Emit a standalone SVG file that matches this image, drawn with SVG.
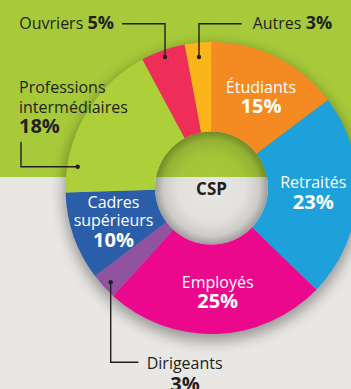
<svg xmlns="http://www.w3.org/2000/svg" width="351" height="389" viewBox="0 0 351 389">
<defs>
<style>
.lbl{font-family:"Open Sans","Noto Sans","Liberation Sans",sans-serif;font-size:16px;}
.dark{fill:#231f20;}
.white{fill:#ffffff;}
.b{font-weight:700;}
.pct{font-weight:700;font-size:20px;}
.inl{font-weight:700;font-size:18px;}
.lead{fill:none;stroke:#231f20;stroke-width:1.4;}
.dot{fill:#231f20;}
</style>
<filter id="sh" x="-30%" y="-30%" width="160%" height="160%">
<feGaussianBlur stdDeviation="7"/>
</filter>
<radialGradient id="holeShade" cx="211.5" cy="188" r="56.5" gradientUnits="userSpaceOnUse">
<stop offset="0" stop-color="#000" stop-opacity="0"/>
<stop offset="0.6" stop-color="#000" stop-opacity="0.03"/>
<stop offset="0.85" stop-color="#000" stop-opacity="0.12"/>
<stop offset="1" stop-color="#000" stop-opacity="0.32"/>
</radialGradient>
<clipPath id="holeClip"><circle cx="211.5" cy="188" r="56.5"/></clipPath>
</defs>

<g id="background">
<rect x="0" y="0" width="351" height="177" fill="#a7ca3a"/>
<rect x="0" y="177" width="351" height="212" fill="#e9e7e4"/>
<circle cx="211.5" cy="193" r="148" fill="#000" opacity="0.35" filter="url(#sh)"/>
</g>

<g id="etudiants"><path d="M211.5 188 L211.5 42 A146 146 0 0 1 327.94 99.92 Z" fill="#f68a22"/></g>
<g id="retraites"><path d="M211.5 188 L327.94 99.92 A146 146 0 0 1 316.33 289.63 Z" fill="#1ea1da"/></g>
<g id="employes"><path d="M211.5 188 L316.33 289.63 A146 146 0 0 1 113.14 295.89 Z" fill="#ec088c"/></g>
<g id="dirigeants"><path d="M211.5 188 L113.14 295.89 A146 146 0 0 1 95.06 276.08 Z" fill="#9152a0"/></g>
<g id="cadres"><path d="M211.5 188 L95.06 276.08 A146 146 0 0 1 65.57 192.5 Z" fill="#2b5ea9"/></g>
<g id="professions"><path d="M211.5 188 L65.57 192.5 A146 146 0 0 1 142.43 59.37 Z" fill="#adcf3a"/></g>
<g id="ouvriers"><path d="M211.5 188 L142.43 59.37 A146 146 0 0 1 184.68 44.48 Z" fill="#ee2d59"/></g>
<g id="autres"><path d="M211.5 188 L184.68 44.48 A146 146 0 0 1 211.5 42 Z" fill="#fbb419"/></g>

<g id="csp">
<g clip-path="url(#holeClip)">
<rect x="150" y="128" width="125" height="49" fill="#a7ca3a"/>
<rect x="150" y="177" width="125" height="75" fill="#e9e7e4"/>
<circle cx="211.5" cy="188" r="56.5" fill="url(#holeShade)"/>
</g>
<text class="lbl dark b" x="211.5" y="194.5" text-anchor="middle" style="font-size:17px">CSP</text>
</g>

<g id="connectors">
<polyline class="lead" points="122,23.7 165,23.7 165,57"/>
<circle class="dot" cx="165" cy="57" r="2.2"/>
<polyline class="lead" points="241.7,23.7 199,23.7 199,57"/>
<circle class="dot" cx="199" cy="57" r="2.2"/>
<polyline class="lead" points="21,141.7 21,166.7 77.7,166.7"/>
<circle class="dot" cx="77.7" cy="166.7" r="2.2"/>
<polyline class="lead" points="110.7,282.3 110.7,362.3 138.3,362.3"/>
<circle class="dot" cx="110.7" cy="282.3" r="2.2"/>
</g>

<g id="labels">
<text class="lbl dark" x="19.3" y="29.3">Ouvriers <tspan class="inl">5%</tspan></text>
<text class="lbl dark" x="252.7" y="29.3">Autres <tspan class="inl">3%</tspan></text>
<text class="lbl dark" x="19" y="92.7">Professions</text>
<text class="lbl dark" x="19" y="112.7">intermédiaires</text>
<text class="lbl dark pct" x="19" y="133.3">18%</text>
<text class="lbl white" x="261" y="92.7" text-anchor="middle">Étudiants</text>
<text class="lbl white pct" x="261" y="113.3" text-anchor="middle">15%</text>
<text class="lbl white" x="313.3" y="188.3" text-anchor="middle">Retraités</text>
<text class="lbl white pct" x="313.3" y="209" text-anchor="middle">23%</text>
<text class="lbl white" x="217.7" y="288.3" text-anchor="middle">Employés</text>
<text class="lbl white pct" x="217.7" y="308.3" text-anchor="middle">25%</text>
<text class="lbl white" x="113.5" y="208.3" text-anchor="middle">Cadres</text>
<text class="lbl white" x="113.5" y="225.7" text-anchor="middle">supérieurs</text>
<text class="lbl white pct" x="113.5" y="246.7" text-anchor="middle">10%</text>
<text class="lbl dark" x="146.7" y="369">Dirigeants</text>
<text class="lbl dark pct" x="185" y="391" text-anchor="middle">3%</text>
</g>
</svg>
